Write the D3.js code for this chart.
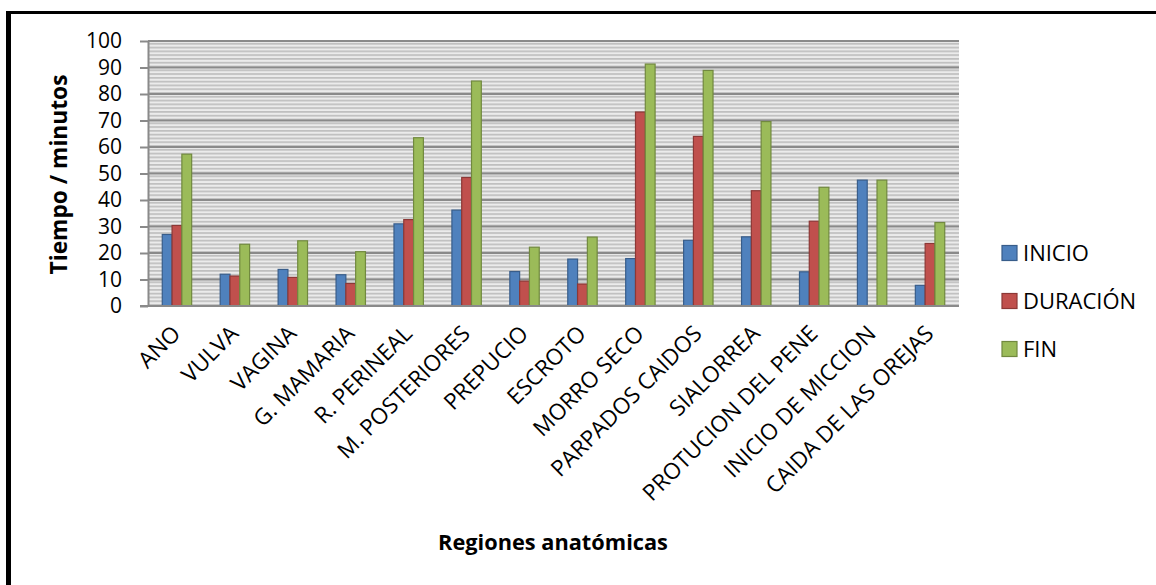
<!DOCTYPE html>
<html>
<head>
<meta charset="utf-8">
<script src="https://cdn.jsdelivr.net/npm/d3@7"></script>
<style>
  html, body { margin: 0; padding: 0; background: #fff; }
  svg { display: block; }
  text { font-family: "Open Sans", "DejaVu Sans", sans-serif; fill: #000; }
</style>
</head>
<body>
<svg id="chart" width="1156" height="585"></svg>
<script>
// ---- data ----
const categories = ["ANO", "VULVA", "VAGINA", "G. MAMARIA", "R. PERINEAL", "M. POSTERIORES",
  "PREPUCIO", "ESCROTO", "MORRO SECO", "PARPADOS CAIDOS", "SIALORREA",
  "PROTUCION DEL PENE", "INICIO DE MICCION", "CAIDA DE LAS OREJAS"];
const seriesNames = ["INICIO", "DURACIÓN", "FIN"];
const inicio   = [27, 12, 13.8, 11.8, 31, 36.2, 13, 17.7, 17.9, 24.8, 26.1, 12.9, 47.5, 7.8];
const duracion = [30.4, 11.3, 10.8, 8.5, 32.6, 48.5, 9.4, 8.3, 73.2, 64, 43.5, 32, 0, 23.6];
const fin      = [57.3, 23.3, 24.6, 20.5, 63.5, 84.9, 22.2, 26, 91.3, 88.9, 69.6, 44.8, 47.5, 31.5];
const yTicks   = [0, 10, 20, 30, 40, 50, 60, 70, 80, 90, 100];
const yTitle = "Tiempo / minutos";
const xTitle = "Regiones anatómicas";

const seriesValues = [inicio, duracion, fin];
const fills   = ["#4f81bd", "#c0504d", "#9bbb59"];
const strokes = ["#385d8a", "#8c3836", "#71893f"];

// ---- layout ----
const svg = d3.select("#chart");
const L = 148, R = 959, T = 41, B = 306;
const x = d3.scaleBand().domain(categories).range([L, R]).padding(0);
const y = d3.scaleLinear().domain([0, 100]).range([B, T]);
const barW = 9.8;
const inner = d3.scaleBand().domain(seriesNames)
  .range([x.bandwidth() / 2 - 1.5 * barW, x.bandwidth() / 2 + 1.5 * barW]).padding(0);

// outer frame (partially cropped)
svg.append("line").attr("x1", 6).attr("x2", 1156).attr("y1", 12.5).attr("y2", 12.5)
  .attr("stroke", "#000").attr("stroke-width", 3);
svg.append("line").attr("x1", 8.5).attr("x2", 8.5).attr("y1", 11).attr("y2", 585)
  .attr("stroke", "#000").attr("stroke-width", 5);

// stripe pattern
const stripeH = (y(0) - y(10)) / 7;
const defs = svg.append("defs");
const pat = defs.append("pattern").attr("id", "stripes")
  .attr("patternUnits", "userSpaceOnUse")
  .attr("x", 0).attr("y", T).attr("width", 8).attr("height", stripeH);
pat.append("rect").attr("width", 8).attr("height", stripeH).attr("fill", "#ebebeb");
pat.append("rect").attr("y", stripeH * 0.5).attr("width", 8).attr("height", stripeH * 0.45).attr("fill", "#bfbfbf");

svg.append("rect").attr("x", L).attr("y", T).attr("width", R - L).attr("height", B - T)
  .attr("fill", "url(#stripes)");

// gridlines
svg.append("g").selectAll("line").data(yTicks.filter(d => d > 0)).join("line")
  .attr("x1", L).attr("x2", R).attr("y1", d => y(d)).attr("y2", d => y(d))
  .attr("stroke", "#8a8a8a").attr("stroke-width", 2);

// y axis
const yAxis = svg.append("g").attr("transform", `translate(${L},0)`)
  .call(d3.axisLeft(y).tickValues(yTicks).tickSize(8).tickPadding(18).tickSizeOuter(0));
yAxis.select(".domain").attr("stroke", "#8a8a8a").attr("stroke-width", 2);
yAxis.selectAll(".tick line").attr("stroke", "#8a8a8a").attr("stroke-width", 2);
yAxis.selectAll(".tick text").attr("font-size", 21).attr("font-family", "Open Sans").attr("fill", "#000");

// bars
const groups = svg.append("g").selectAll("g").data(categories).join("g")
  .attr("transform", d => `translate(${x(d)},0)`);
groups.selectAll("rect")
  .data((c, i) => seriesNames.map((s, k) => ({ s, k, v: seriesValues[k][i] })).filter(d => d.v > 0))
  .join("rect")
  .attr("x", d => inner(d.s))
  .attr("width", inner.bandwidth())
  .attr("y", d => y(d.v))
  .attr("height", d => y(0) - y(d.v))
  .attr("fill", d => fills[d.k])
  .attr("stroke", d => strokes[d.k])
  .attr("stroke-width", 1.2);

// x axis line
svg.append("line").attr("x1", L - 8).attr("x2", R).attr("y1", B).attr("y2", B)
  .attr("stroke", "#8a8a8a").attr("stroke-width", 2);

// category labels
svg.append("g").selectAll("text").data(categories).join("text")
  .attr("transform", d => `translate(${x(d) + x.bandwidth() / 2 + 5},${B + 29}) rotate(-45)`)
  .attr("text-anchor", "end")
  .attr("font-size", 22.5)
  .text(d => d);

function fitWidth(sel, target) {
  const w = sel.node().getComputedTextLength();
  const fs = parseFloat(sel.attr("font-size"));
  sel.attr("font-size", fs * target / w);
}

// axis titles
const yt = svg.append("text")
  .attr("transform", `translate(67,${(T + B) / 2 + 1}) rotate(-90)`)
  .attr("text-anchor", "middle").attr("font-weight", "bold").attr("font-size", 18)
  .text(yTitle);
fitWidth(yt, 200);

const xt = svg.append("text")
  .attr("x", 553).attr("y", 550)
  .attr("text-anchor", "middle").attr("font-weight", "bold").attr("font-size", 20)
  .text(xTitle);
fitWidth(xt, 230);

// legend
const leg = svg.append("g").selectAll("g").data(seriesNames).join("g")
  .attr("transform", (d, i) => `translate(1002,${253 + i * 48})`);
leg.append("rect").attr("x", 0).attr("y", -7.5).attr("width", 15).attr("height", 15)
  .attr("fill", (d, i) => fills[i]).attr("stroke", (d, i) => strokes[i]).attr("stroke-width", 1.2);
leg.append("text").attr("x", 21).attr("y", 0).attr("dy", "0.36em")
  .attr("font-size", 22).text(d => d);
</script>
</body>
</html>
